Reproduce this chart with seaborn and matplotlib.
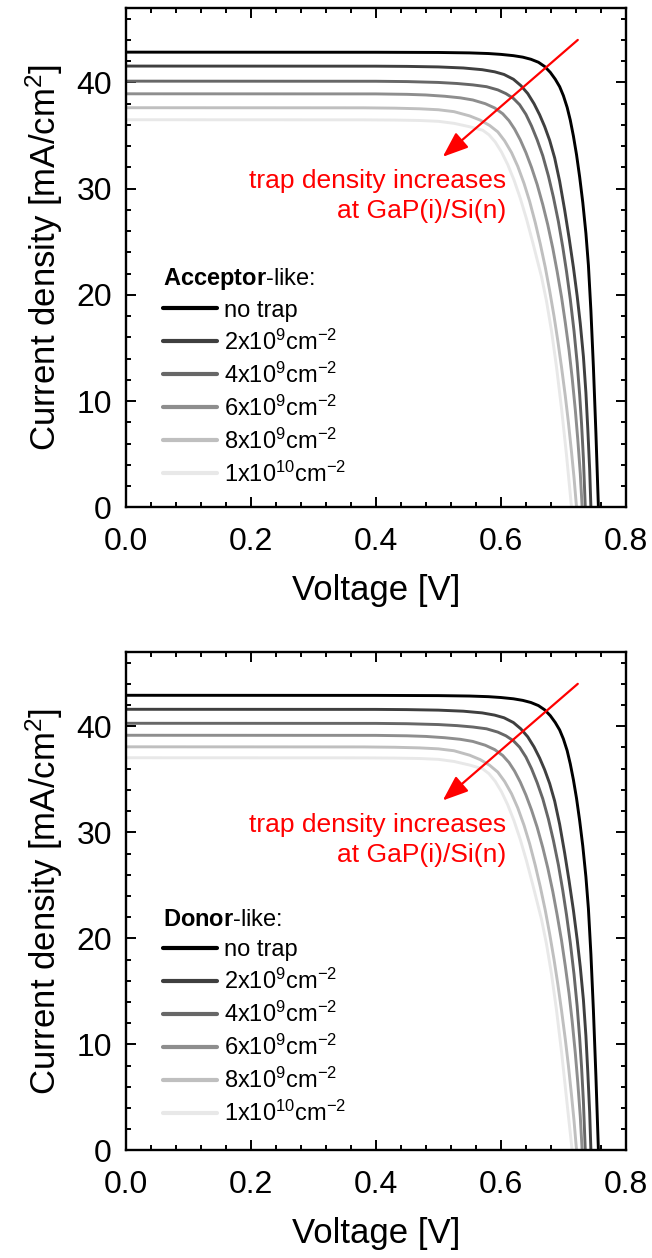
import numpy as np
import pandas as pd
import matplotlib
matplotlib.use("Agg")
import matplotlib.pyplot as plt
from matplotlib.ticker import MultipleLocator
import seaborn as sns

# ---------------- data: J-V curves (V in volts, J in mA/cm^2) ----------------
series_labels = ["no trap", "2x10$^{9}$cm$^{-2}$", "4x10$^{9}$cm$^{-2}$",
                 "6x10$^{9}$cm$^{-2}$", "8x10$^{9}$cm$^{-2}$", "1x10$^{10}$cm$^{-2}$"]
series_colors = ["#000000", "#3f3f3f", "#676767", "#8e8e8e", "#bfbfbf", "#e8e8e8"]

# acceptor-like traps
acc_v_notrap = [0.00, 0.40, 0.50, 0.55, 0.58, 0.60, 0.62, 0.635, 0.648, 0.660, 0.670, 0.679, 0.687, 0.694,
                0.700, 0.706, 0.711, 0.716, 0.721, 0.726, 0.731, 0.736, 0.740, 0.744, 0.748, 0.752, 0.756]
acc_j_notrap = [42.85, 42.84, 42.82, 42.78, 42.72, 42.64, 42.52, 42.38, 42.18, 41.90, 41.50, 40.95, 40.30, 39.60,
                38.75, 37.65, 36.45, 34.95, 33.20, 31.10, 28.70, 25.80, 22.80, 18.50, 13.20, 7.00, 0.00]
acc_v_2e9 = [0.00, 0.40, 0.45, 0.50, 0.54, 0.57, 0.59, 0.605, 0.620, 0.632, 0.643, 0.653, 0.662, 0.670,
             0.678, 0.686, 0.694, 0.702, 0.709, 0.716, 0.722, 0.727, 0.732, 0.736, 0.739, 0.742, 0.744]
acc_j_2e9 = [41.54, 41.53, 41.51, 41.46, 41.36, 41.20, 41.00, 40.75, 40.30, 39.70, 38.95, 38.00, 36.95, 35.85,
             34.55, 32.90, 30.70, 28.00, 25.40, 22.60, 19.90, 17.30, 14.20, 10.80, 7.40, 3.60, 0.00]
acc_v_4e9 = [0.00, 0.40, 0.45, 0.50, 0.53, 0.555, 0.577, 0.595, 0.608, 0.620, 0.630, 0.640, 0.649, 0.658,
             0.667, 0.676, 0.684, 0.692, 0.699, 0.705, 0.711, 0.717, 0.722, 0.726, 0.729, 0.732, 0.735]
acc_j_4e9 = [40.12, 40.11, 40.08, 40.00, 39.90, 39.77, 39.60, 39.30, 38.95, 38.50, 37.90, 37.00, 35.90, 34.60,
             33.10, 31.20, 29.20, 26.90, 24.50, 22.20, 19.60, 16.60, 13.60, 10.60, 7.90, 4.60, 0.00]
acc_v_6e9 = [0.00, 0.40, 0.45, 0.48, 0.51, 0.535, 0.555, 0.575, 0.590, 0.603, 0.613, 0.622, 0.631, 0.640,
             0.649, 0.658, 0.667, 0.675, 0.683, 0.690, 0.697, 0.703, 0.709, 0.714, 0.719, 0.723, 0.727, 0.730]
acc_j_6e9 = [38.93, 38.92, 38.88, 38.82, 38.70, 38.55, 38.35, 38.00, 37.60, 37.05, 36.40, 35.60, 34.60, 33.40,
             32.00, 30.40, 28.50, 26.60, 24.40, 22.20, 19.80, 17.40, 14.80, 12.20, 9.20, 6.40, 3.20, 0.00]
acc_v_8e9 = [0.00, 0.38, 0.43, 0.47, 0.50, 0.525, 0.550, 0.567, 0.582, 0.595, 0.606, 0.617, 0.627, 0.637,
             0.646, 0.655, 0.663, 0.671, 0.678, 0.685, 0.691, 0.697, 0.703, 0.708, 0.713, 0.717, 0.721]
acc_j_8e9 = [37.62, 37.61, 37.58, 37.52, 37.43, 37.25, 36.85, 36.45, 35.95, 35.35, 34.50, 33.40, 32.10, 30.50,
             28.80, 26.80, 24.80, 22.60, 20.40, 18.00, 15.70, 13.20, 10.50, 8.00, 5.20, 2.80, 0.00]
acc_v_1e10 = [0.00, 0.38, 0.43, 0.47, 0.50, 0.525, 0.550, 0.571, 0.581, 0.591, 0.601, 0.611, 0.621, 0.631,
              0.641, 0.651, 0.665, 0.673, 0.681, 0.689, 0.697, 0.705, 0.713]
acc_j_1e10 = [36.49, 36.48, 36.46, 36.42, 36.34, 36.15, 35.83, 35.50, 35.07, 34.39, 33.45, 32.26, 30.81, 29.10,
              27.14, 24.93, 21.70, 19.40, 16.60, 13.20, 9.30, 4.90, 0.00]

# donor-like traps
don_v_notrap = [0.00, 0.40, 0.50, 0.55, 0.58, 0.60, 0.62, 0.635, 0.648, 0.660, 0.670, 0.679, 0.687, 0.694,
                0.700, 0.706, 0.711, 0.716, 0.721, 0.726, 0.731, 0.736, 0.740, 0.744, 0.748, 0.752, 0.756]
don_j_notrap = [42.92, 42.91, 42.89, 42.85, 42.79, 42.71, 42.59, 42.44, 42.24, 41.95, 41.55, 41.00, 40.35, 39.65,
                38.80, 37.70, 36.45, 34.95, 33.20, 31.10, 28.70, 25.80, 22.80, 18.50, 13.20, 7.00, 0.00]
don_v_2e9 = [0.00, 0.40, 0.45, 0.50, 0.54, 0.57, 0.59, 0.605, 0.620, 0.632, 0.643, 0.653, 0.662, 0.670,
             0.678, 0.686, 0.694, 0.702, 0.709, 0.716, 0.722, 0.727, 0.732, 0.736, 0.739, 0.742, 0.744]
don_j_2e9 = [41.60, 41.59, 41.57, 41.52, 41.42, 41.26, 41.05, 40.80, 40.35, 39.75, 39.00, 38.05, 37.00, 35.90,
             34.60, 32.95, 30.75, 28.05, 25.45, 22.65, 19.90, 17.30, 14.20, 10.80, 7.40, 3.60, 0.00]
don_v_4e9 = [0.00, 0.40, 0.45, 0.50, 0.53, 0.555, 0.577, 0.595, 0.608, 0.620, 0.630, 0.640, 0.649, 0.658,
             0.667, 0.676, 0.684, 0.692, 0.699, 0.705, 0.711, 0.717, 0.722, 0.726, 0.729, 0.732, 0.735]
don_j_4e9 = [40.28, 40.27, 40.24, 40.16, 40.06, 39.93, 39.76, 39.45, 39.10, 38.63, 38.02, 37.10, 36.00, 34.68,
             33.16, 31.25, 29.23, 26.92, 24.51, 22.20, 19.60, 16.60, 13.60, 10.60, 7.90, 4.60, 0.00]
don_v_6e9 = [0.00, 0.40, 0.45, 0.48, 0.51, 0.535, 0.555, 0.575, 0.590, 0.603, 0.613, 0.622, 0.631, 0.640,
             0.649, 0.658, 0.667, 0.675, 0.683, 0.690, 0.697, 0.703, 0.709, 0.714, 0.719, 0.723, 0.727, 0.730]
don_j_6e9 = [39.15, 39.14, 39.10, 39.04, 38.92, 38.77, 38.57, 38.21, 37.80, 37.24, 36.58, 35.76, 34.74, 33.52,
             32.10, 30.48, 28.56, 26.64, 24.42, 22.20, 19.80, 17.40, 14.80, 12.20, 9.20, 6.40, 3.20, 0.00]
don_v_8e9 = [0.00, 0.38, 0.43, 0.47, 0.50, 0.525, 0.550, 0.567, 0.582, 0.595, 0.606, 0.617, 0.627, 0.637,
             0.646, 0.655, 0.663, 0.671, 0.678, 0.685, 0.691, 0.697, 0.703, 0.708, 0.713, 0.717, 0.721]
don_j_8e9 = [38.06, 38.05, 38.02, 37.96, 37.87, 37.69, 37.27, 36.85, 36.32, 35.68, 34.79, 33.64, 32.30, 30.66,
             28.92, 26.88, 24.86, 22.64, 20.42, 18.00, 15.70, 13.20, 10.50, 8.00, 5.20, 2.80, 0.00]
don_v_1e10 = [0.00, 0.38, 0.43, 0.47, 0.50, 0.525, 0.550, 0.571, 0.581, 0.591, 0.601, 0.611, 0.621, 0.631,
              0.641, 0.651, 0.665, 0.673, 0.681, 0.689, 0.697, 0.705, 0.714]
don_j_1e10 = [37.03, 37.02, 37.00, 36.96, 36.88, 36.68, 36.34, 35.98, 35.52, 34.80, 33.82, 32.58, 31.08, 29.32,
              27.30, 25.05, 21.78, 19.44, 16.62, 13.21, 9.30, 4.90, 0.00]

acc_curves = [(acc_v_notrap, acc_j_notrap), (acc_v_2e9, acc_j_2e9), (acc_v_4e9, acc_j_4e9),
              (acc_v_6e9, acc_j_6e9), (acc_v_8e9, acc_j_8e9), (acc_v_1e10, acc_j_1e10)]
don_curves = [(don_v_notrap, don_j_notrap), (don_v_2e9, don_j_2e9), (don_v_4e9, don_j_4e9),
              (don_v_6e9, don_j_6e9), (don_v_8e9, don_j_8e9), (don_v_1e10, don_j_1e10)]

# arrow (start -> head) and note, in data coordinates
arrow_start = (0.723, 44.0)
arrow_head = (0.507, 33.0)
note_text = "trap density increases\nat GaP(i)/Si(n)"

# ---------------- style ----------------
sns.set_theme(style="ticks")
plt.rcParams["font.family"] = ["Liberation Sans", "DejaVu Sans"]
plt.rcParams["mathtext.fontset"] = "custom"
plt.rcParams["mathtext.rm"] = "Liberation Sans"
plt.rcParams["mathtext.bf"] = "Liberation Sans:bold"
plt.rcParams["mathtext.it"] = "Liberation Sans:italic"
plt.rcParams["mathtext.default"] = "regular"
for key in ("text.color", "axes.labelcolor", "xtick.color", "ytick.color", "axes.edgecolor"):
    plt.rcParams[key] = "black"

fig = plt.figure(figsize=(6.52, 12.58), dpi=100)
ax_top = fig.add_axes([0.193, 0.5966, 0.767, 0.3970])
ax_bot = fig.add_axes([0.193, 0.0855, 0.767, 0.3962])


def draw_panel(ax, curves, kind):
    for (v, j), lab, col in zip(curves, series_labels, series_colors):
        df = pd.DataFrame({"Voltage": v, "Current": j})
        sns.lineplot(data=df, x="Voltage", y="Current", color=col, lw=2.1,
                     estimator=None, label=lab, ax=ax)
    ax.set_xlim(0, 0.8)
    ax.set_ylim(0, 47)
    ax.xaxis.set_major_locator(MultipleLocator(0.2))
    ax.xaxis.set_minor_locator(MultipleLocator(0.04))
    ax.yaxis.set_major_locator(MultipleLocator(10))
    ax.yaxis.set_minor_locator(MultipleLocator(2))
    ax.set_xticks([0.0, 0.2, 0.4, 0.6, 0.8])
    ax.set_xticklabels(["0.0", "0.2", "0.4", "0.6", "0.8"])
    ax.tick_params(which="both", direction="in", top=True, right=True,
                   width=1.4, colors="black", labelsize=23)
    ax.tick_params(which="major", length=7)
    ax.tick_params(which="minor", length=3.8)
    ax.tick_params(axis="x", which="major", pad=14)
    ax.tick_params(axis="y", which="major", pad=10)
    for sp in ax.spines.values():
        sp.set_linewidth(1.7)
        sp.set_color("black")
    ax.set_xlabel("Voltage [V]", fontsize=25, labelpad=12)
    ax.set_ylabel("Current density [mA/cm$^2$]", fontsize=25, labelpad=8)

    leg = ax.legend(loc="upper left", bbox_to_anchor=(0.074, 0.484),
                    frameon=False, fontsize=17, title=rf"$\mathbf{{{kind}}}$-like:",
                    title_fontsize=17, alignment="left", handlelength=2.3,
                    handletextpad=0.3, labelspacing=0.33, borderpad=0,
                    borderaxespad=0)
    for h in leg.get_lines():
        h.set_linewidth(3.0)

    ax.annotate("", xy=arrow_head, xytext=arrow_start,
                arrowprops=dict(arrowstyle="-|>,head_length=1.3,head_width=0.5",
                                color="#ff0000", lw=1.6, shrinkA=0, shrinkB=0))
    ax.text(0.608, 29.3, note_text, ha="right", va="center", ma="right",
            fontsize=19, color="#ff0000", linespacing=1.33)


draw_panel(ax_top, acc_curves, "Acceptor")
draw_panel(ax_bot, don_curves, "Donor")

fig.savefig("out.png", dpi=100, facecolor="white")
